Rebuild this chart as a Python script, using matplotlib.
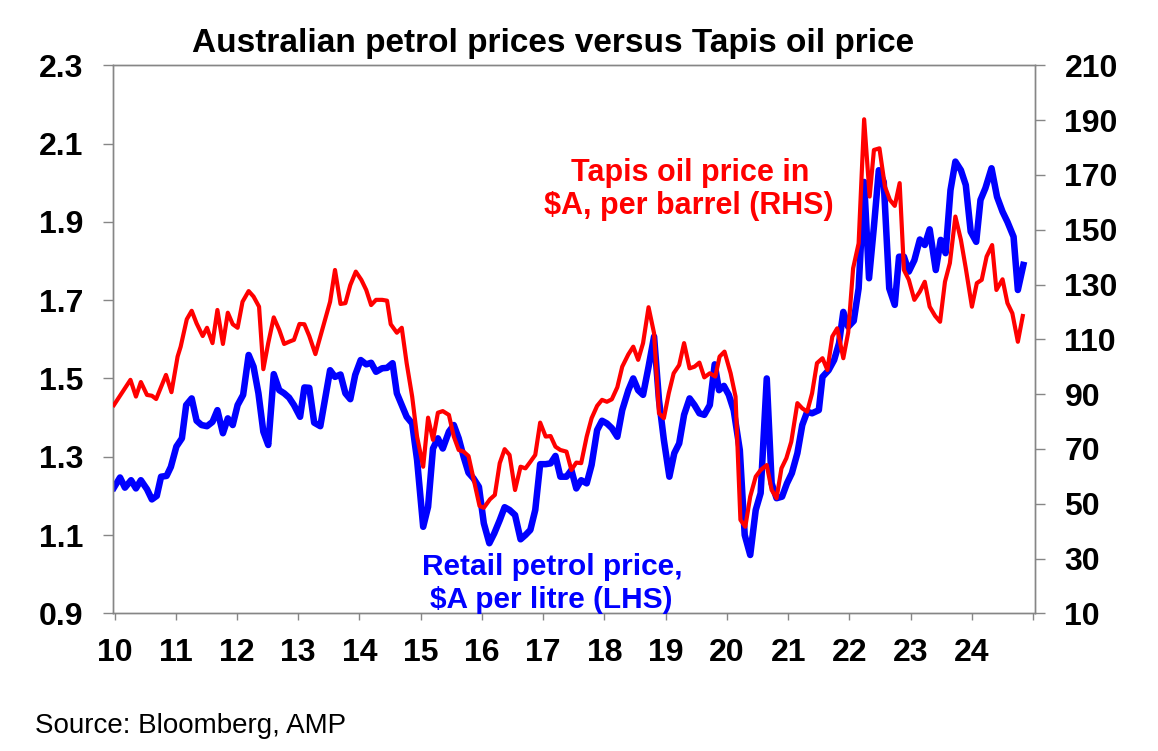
import matplotlib
matplotlib.use("Agg")
import matplotlib.pyplot as plt
import numpy as np

# ---- data (decimal years) ----
petrol_years = [2009.99, 2010.09, 2010.17, 2010.27, 2010.35, 2010.43, 2010.53, 2010.61, 2010.69, 2010.76,
                2010.85, 2010.92, 2011.01, 2011.10, 2011.17, 2011.26, 2011.34, 2011.42, 2011.51, 2011.60,
                2011.68, 2011.77, 2011.85, 2011.93, 2012.01, 2012.10, 2012.19, 2012.27, 2012.35, 2012.43,
                2012.51, 2012.60, 2012.69, 2012.77, 2012.85, 2012.93, 2013.03, 2013.10, 2013.18, 2013.26,
                2013.36, 2013.44, 2013.52, 2013.60, 2013.69, 2013.77, 2013.85, 2013.93, 2014.02, 2014.11,
                2014.19, 2014.27, 2014.37, 2014.45, 2014.54, 2014.61, 2014.69, 2014.77, 2014.86, 2014.94,
                2015.04, 2015.12, 2015.20, 2015.28, 2015.36, 2015.46, 2015.54, 2015.62, 2015.70, 2015.78,
                2015.86, 2015.95, 2016.03, 2016.12, 2016.20, 2016.29, 2016.37, 2016.45, 2016.54, 2016.63,
                2016.71, 2016.79, 2016.87, 2016.95, 2017.04, 2017.12, 2017.20, 2017.28, 2017.38, 2017.46,
                2017.54, 2017.62, 2017.71, 2017.79, 2017.88, 2017.96, 2018.04, 2018.12, 2018.21, 2018.29,
                2018.39, 2018.47, 2018.55, 2018.63, 2018.72, 2018.81, 2018.89, 2018.97, 2019.06, 2019.14,
                2019.22, 2019.30, 2019.39, 2019.47, 2019.55, 2019.63, 2019.72, 2019.80, 2019.87, 2019.95,
                2020.03, 2020.11, 2020.21, 2020.29, 2020.38, 2020.47, 2020.55, 2020.65, 2020.73, 2020.81,
                2020.90, 2020.98, 2021.06, 2021.15, 2021.23, 2021.31, 2021.39, 2021.50, 2021.56, 2021.66,
                2021.75, 2021.83, 2021.90, 2021.98, 2022.07, 2022.15, 2022.24, 2022.32, 2022.40, 2022.48,
                2022.56, 2022.65, 2022.74, 2022.81, 2022.89, 2022.97, 2023.06, 2023.15, 2023.23, 2023.31,
                2023.41, 2023.49, 2023.57, 2023.65, 2023.73, 2023.82, 2023.90, 2023.98, 2024.07, 2024.14,
                2024.22, 2024.32, 2024.41, 2024.50, 2024.58, 2024.68, 2024.75, 2024.84]
petrol_price = [1.221, 1.247, 1.221, 1.240, 1.219, 1.240, 1.217, 1.191, 1.200, 1.249,
                1.251, 1.274, 1.326, 1.347, 1.432, 1.449, 1.392, 1.381, 1.378, 1.389,
                1.419, 1.360, 1.398, 1.381, 1.432, 1.458, 1.560, 1.530, 1.462, 1.364,
                1.330, 1.511, 1.470, 1.462, 1.451, 1.432, 1.402, 1.477, 1.476, 1.387,
                1.378, 1.449, 1.521, 1.504, 1.510, 1.462, 1.447, 1.509, 1.547, 1.536,
                1.540, 1.517, 1.526, 1.527, 1.539, 1.462, 1.432, 1.402, 1.385, 1.292,
                1.121, 1.172, 1.321, 1.347, 1.321, 1.364, 1.381, 1.347, 1.300, 1.259,
                1.245, 1.223, 1.130, 1.079, 1.104, 1.138, 1.171, 1.164, 1.151, 1.089,
                1.100, 1.113, 1.164, 1.281, 1.281, 1.283, 1.302, 1.249, 1.249, 1.266,
                1.219, 1.240, 1.232, 1.279, 1.368, 1.392, 1.385, 1.373, 1.351, 1.419,
                1.470, 1.500, 1.470, 1.458, 1.530, 1.607, 1.445, 1.343, 1.249, 1.309,
                1.334, 1.407, 1.449, 1.432, 1.411, 1.407, 1.432, 1.536, 1.470, 1.481,
                1.458, 1.419, 1.317, 1.100, 1.049, 1.164, 1.207, 1.500, 1.232, 1.194,
                1.198, 1.232, 1.258, 1.309, 1.381, 1.415, 1.411, 1.419, 1.504, 1.521,
                1.547, 1.590, 1.670, 1.632, 1.647, 1.730, 2.002, 1.756, 1.888, 2.032,
                2.002, 1.730, 1.688, 1.811, 1.811, 1.773, 1.802, 1.855, 1.841, 1.881,
                1.777, 1.854, 1.820, 1.981, 2.054, 2.032, 1.994, 1.875, 1.849, 1.956,
                1.986, 2.037, 1.964, 1.926, 1.900, 1.862, 1.726, 1.790]

oil_years = [2009.99, 2010.26, 2010.35, 2010.43, 2010.53, 2010.61, 2010.68, 2010.84, 2010.93, 2011.03,
             2011.08, 2011.18, 2011.26, 2011.34, 2011.44, 2011.51, 2011.60, 2011.68, 2011.77, 2011.85,
             2011.93, 2012.01, 2012.09, 2012.19, 2012.27, 2012.36, 2012.43, 2012.51, 2012.60, 2012.69,
             2012.77, 2012.85, 2012.93, 2013.02, 2013.10, 2013.18, 2013.28, 2013.36, 2013.44, 2013.52,
             2013.60, 2013.69, 2013.77, 2013.85, 2013.94, 2014.03, 2014.11, 2014.19, 2014.27, 2014.37,
             2014.45, 2014.51, 2014.61, 2014.69, 2014.77, 2014.86, 2014.94, 2015.04, 2015.12, 2015.20,
             2015.28, 2015.36, 2015.46, 2015.54, 2015.62, 2015.70, 2015.78, 2015.86, 2015.96, 2016.03,
             2016.13, 2016.21, 2016.29, 2016.37, 2016.45, 2016.54, 2016.63, 2016.71, 2016.79, 2016.87,
             2016.95, 2017.04, 2017.12, 2017.20, 2017.28, 2017.38, 2017.46, 2017.54, 2017.62, 2017.71,
             2017.79, 2017.88, 2017.96, 2018.04, 2018.12, 2018.21, 2018.29, 2018.39, 2018.47, 2018.55,
             2018.63, 2018.72, 2018.81, 2018.89, 2018.97, 2019.05, 2019.13, 2019.22, 2019.30, 2019.39,
             2019.47, 2019.55, 2019.63, 2019.72, 2019.81, 2019.88, 2019.96, 2020.06, 2020.14, 2020.22,
             2020.30, 2020.38, 2020.47, 2020.55, 2020.65, 2020.73, 2020.81, 2020.89, 2020.97, 2021.05,
             2021.15, 2021.23, 2021.31, 2021.39, 2021.47, 2021.56, 2021.64, 2021.72, 2021.80, 2021.90,
             2021.98, 2022.06, 2022.15, 2022.24, 2022.33, 2022.40, 2022.49, 2022.58, 2022.66, 2022.74,
             2022.82, 2022.89, 2022.97, 2023.06, 2023.15, 2023.23, 2023.31, 2023.40, 2023.48, 2023.56,
             2023.64, 2023.73, 2023.82, 2023.90, 2024.00, 2024.08, 2024.16, 2024.24, 2024.33, 2024.40,
             2024.50, 2024.58, 2024.66, 2024.75, 2024.83]
oil_price = [86.0, 95.2, 89.1, 94.4, 89.7, 89.4, 88.2, 97.0, 90.7, 103.7,
             107.3, 117.3, 120.4, 115.8, 111.2, 114.2, 108.6, 120.7, 108.3, 119.7,
             115.5, 114.2, 123.7, 127.6, 125.6, 121.9, 99.1, 108.6, 118.0, 113.4,
             108.3, 109.1, 109.8, 115.6, 115.5, 111.2, 104.6, 111.0, 117.3, 123.7,
             135.3, 122.9, 123.2, 129.8, 134.7, 131.7, 128.0, 122.5, 124.4, 124.4,
             124.1, 115.5, 112.4, 114.2, 101.3, 89.1, 74.5, 63.5, 81.4, 73.3,
             83.2, 83.8, 82.4, 74.5, 69.6, 69.0, 67.4, 59.3, 49.2, 48.5,
             51.6, 53.2, 64.8, 69.9, 67.8, 55.0, 63.5, 62.9, 65.3, 67.8,
             79.6, 74.5, 74.7, 70.8, 69.6, 69.0, 62.3, 65.0, 64.8, 74.5,
             81.2, 85.7, 87.9, 87.2, 88.1, 92.5, 100.0, 104.5, 107.3, 102.5,
             108.6, 121.7, 112.2, 83.0, 81.2, 90.3, 97.6, 100.6, 108.6, 99.4,
             100.0, 101.5, 96.1, 97.6, 96.4, 103.7, 105.5, 97.6, 89.1, 44.1,
             41.6, 52.6, 59.9, 62.3, 64.1, 55.0, 52.0, 62.9, 66.6, 72.6,
             86.7, 84.8, 83.6, 90.3, 101.3, 103.1, 98.8, 111.0, 114.0, 103.1,
             112.5, 135.9, 145.0, 190.3, 162.1, 179.1, 179.7, 165.7, 160.9, 158.7,
             167.0, 135.3, 131.7, 124.4, 127.4, 131.0, 121.9, 118.5, 116.4, 131.0,
             137.8, 154.8, 146.3, 135.9, 121.9, 130.5, 131.7, 140.2, 144.4, 128.0,
             131.9, 123.2, 119.5, 109.1, 118.5]

left_ticks = [0.9, 1.1, 1.3, 1.5, 1.7, 1.9, 2.1, 2.3]
left_ticklabels = ["0.9", "1.1", "1.3", "1.5", "1.7", "1.9", "2.1", "2.3"]
right_ticks = [10, 30, 50, 70, 90, 110, 130, 150, 170, 190, 210]
right_ticklabels = ["10", "30", "50", "70", "90", "110", "130", "150", "170", "190", "210"]
year_ticks = list(range(2010, 2026))
year_ticklabels = ["10", "11", "12", "13", "14", "15", "16", "17", "18", "19",
                   "20", "21", "22", "23", "24", ""]

title = "Australian petrol prices versus Tapis oil price"
oil_label = ["Tapis oil price in", "$A, per barrel (RHS)"]
petrol_label = ["Retail petrol price,", "$A per litre (LHS)"]
source = "Source: Bloomberg, AMP"

# ---- figure ----
W, H = 1158, 751
plt.rcParams['font.family'] = ['Liberation Sans', 'DejaVu Sans']
fig = plt.figure(figsize=(W / 100, H / 100), dpi=100)
L, R, T, B = 112.5, 1035, 65.3, 613.3
ax = fig.add_axes([L / W, 1 - B / H, (R - L) / W, (B - T) / H])
ax2 = ax.twinx()

spine_col = "#868686"
for a in (ax, ax2):
    for s in a.spines.values():
        s.set_color(spine_col)
        s.set_linewidth(1.0)

ax.set_xlim(2009.967, 2025.03)
ax.set_ylim(0.9, 2.3)
ax2.set_ylim(10, 210)

ax.plot(petrol_years, petrol_price, color="#0000ff", lw=4.7, solid_joinstyle="round", zorder=2)
ax2.plot(oil_years, oil_price, color="#ff0000", lw=3.0, solid_joinstyle="round", zorder=3)

tick_font = dict(fontsize=23, fontweight="bold")
ax.set_yticks(left_ticks)
ax.set_yticklabels(left_ticklabels, **tick_font)
ax2.set_yticks(right_ticks)
ax2.set_yticklabels(right_ticklabels, **tick_font)
ax.set_xticks(year_ticks)
ax.set_xticklabels(year_ticklabels, **tick_font)

ax.tick_params(axis="y", direction="out", length=7.2, width=1.0, color=spine_col, pad=14)
ax2.tick_params(axis="y", direction="out", length=7.2, width=1.0, color=spine_col, pad=14)
ax.tick_params(axis="x", direction="out", length=5, width=1.0, color=spine_col, pad=13)

def fx(px):
    return px / W

def fy(py):
    return 1 - py / H

fig.text(fx(553.5), fy(52.3), title, ha="center", va="baseline", fontsize=24, fontweight="bold")
fig.text(fx(690.5), fy(180.7), oil_label[0], ha="center", va="baseline", fontsize=22,
         fontweight="bold", color="#ff0000")
fig.text(fx(688.5), fy(214), oil_label[1], ha="center", va="baseline", fontsize=22,
         fontweight="bold", color="#ff0000")
fig.text(fx(552), fy(575), petrol_label[0], ha="center", va="baseline", fontsize=21.5,
         fontweight="bold", color="#0000ff")
fig.text(fx(551), fy(608), petrol_label[1], ha="center", va="baseline", fontsize=21.5,
         fontweight="bold", color="#0000ff")
fig.text(fx(35), fy(732.7), source, ha="left", va="baseline", fontsize=20)

fig.savefig("out.png", dpi=100)
